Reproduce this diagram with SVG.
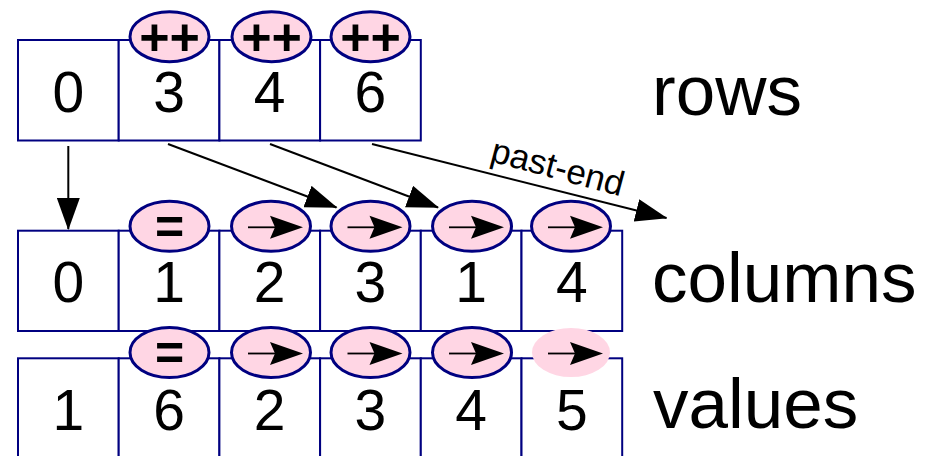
<svg xmlns="http://www.w3.org/2000/svg" xmlns:xlink="http://www.w3.org/1999/xlink" width="930" height="456" viewBox="0 0 930 456">
  <style>
    .cell { fill: #ffffff; stroke: #000080; stroke-width: 2; }
    .badge { fill: #ffd6e4; stroke: #000080; stroke-width: 3; }
    .badge-plain { fill: #ffd6e4; stroke: none; }
    .num { font-family: "Liberation Sans", Arial, sans-serif; font-size: 57px; fill: #000; text-anchor: middle; }
    .op { font-family: "Liberation Sans", Arial, sans-serif; font-size: 52px; font-weight: bold; fill: #000; text-anchor: middle; }
    .eq { font-family: "Liberation Sans", Arial, sans-serif; font-size: 50px; font-weight: bold; fill: #000; text-anchor: middle; }
    .label { font-family: "Liberation Sans", Arial, sans-serif; font-size: 71px; fill: #000; }
    .note { font-family: "Liberation Sans", Arial, sans-serif; font-size: 35px; fill: #000; }
    .link { fill: none; stroke: #000; stroke-width: 2; }
  </style>
  <defs>
    <marker id="head" markerUnits="userSpaceOnUse" markerWidth="32" markerHeight="23" refX="31" refY="11.5" orient="auto">
      <path d="M0,0 L32,11.5 L0,23 Z" fill="#000"/>
    </marker>
    <!-- small "advance" pointer drawn inside a badge, centred on the badge -->
    <g id="ptr">
      <line x1="-23" y1="1" x2="6" y2="1" stroke="#000" stroke-width="1.8"/>
      <path d="M32,1 L-1,-10.5 L4,1 L-1,12.5 Z" fill="#000"/>
    </g>
  </defs>

  <!-- rows array -->
  <g id="rows">
    <rect class="cell" x="18" y="40" width="100.7" height="100.5"/>
    <rect class="cell" x="118.7" y="40" width="100.7" height="100.5"/>
    <rect class="cell" x="219.4" y="40" width="100.7" height="100.5"/>
    <rect class="cell" x="320.1" y="40" width="100.7" height="100.5"/>
    <text class="num" x="68.3" y="112">0</text>
    <text class="num" x="169" y="112">3</text>
    <text class="num" x="269.7" y="112">4</text>
    <text class="num" x="370.4" y="112">6</text>
    <ellipse class="badge" cx="169.5" cy="36.7" rx="39.5" ry="25"/>
    <ellipse class="badge" cx="271.5" cy="36.7" rx="39.5" ry="25"/>
    <ellipse class="badge" cx="370.5" cy="36.7" rx="39.5" ry="25"/>
    <text class="op" x="169.5" y="55">++</text>
    <text class="op" x="271.5" y="55">++</text>
    <text class="op" x="370.5" y="55">++</text>
    <text class="label" x="652" y="115">rows</text>
  </g>

  <!-- columns array -->
  <g id="columns">
    <rect class="cell" x="18" y="230.7" width="100.7" height="100.3"/>
    <rect class="cell" x="118.7" y="230.7" width="100.7" height="100.3"/>
    <rect class="cell" x="219.4" y="230.7" width="100.7" height="100.3"/>
    <rect class="cell" x="320.1" y="230.7" width="100.7" height="100.3"/>
    <rect class="cell" x="420.8" y="230.7" width="100.7" height="100.3"/>
    <rect class="cell" x="521.5" y="230.7" width="100.7" height="100.3"/>
    <text class="num" x="68.3" y="302">0</text>
    <text class="num" x="169" y="302">1</text>
    <text class="num" x="269.7" y="302">2</text>
    <text class="num" x="370.4" y="302">3</text>
    <text class="num" x="471.1" y="302">1</text>
    <text class="num" x="571.8" y="302">4</text>
    <ellipse class="badge" cx="169.5" cy="226.3" rx="39.5" ry="25"/>
    <ellipse class="badge" cx="271" cy="226.3" rx="39.5" ry="25"/>
    <ellipse class="badge" cx="370.5" cy="226.3" rx="39.5" ry="25"/>
    <ellipse class="badge" cx="472" cy="226.3" rx="39.5" ry="25"/>
    <ellipse class="badge" cx="571" cy="226.3" rx="39.5" ry="25"/>
    <text class="eq" x="169.5" y="244">=</text>
    <use xlink:href="#ptr" x="271" y="226.3"/>
    <use xlink:href="#ptr" x="370.5" y="226.3"/>
    <use xlink:href="#ptr" x="472" y="226.3"/>
    <use xlink:href="#ptr" x="571" y="226.3"/>
    <text class="label" x="652" y="302">columns</text>
  </g>

  <!-- values array -->
  <g id="values">
    <rect class="cell" x="18" y="358.3" width="100.7" height="101"/>
    <rect class="cell" x="118.7" y="358.3" width="100.7" height="101"/>
    <rect class="cell" x="219.4" y="358.3" width="100.7" height="101"/>
    <rect class="cell" x="320.1" y="358.3" width="100.7" height="101"/>
    <rect class="cell" x="420.8" y="358.3" width="100.7" height="101"/>
    <rect class="cell" x="521.5" y="358.3" width="100.7" height="101"/>
    <text class="num" x="68.3" y="430">1</text>
    <text class="num" x="169" y="430">6</text>
    <text class="num" x="269.7" y="430">2</text>
    <text class="num" x="370.4" y="430">3</text>
    <text class="num" x="471.1" y="430">4</text>
    <text class="num" x="571.8" y="430">5</text>
    <ellipse class="badge" cx="169.5" cy="352.5" rx="39.5" ry="25"/>
    <ellipse class="badge" cx="271" cy="352.5" rx="39.5" ry="25"/>
    <ellipse class="badge" cx="370.5" cy="352.5" rx="39.5" ry="25"/>
    <ellipse class="badge" cx="472" cy="352.5" rx="39.5" ry="25"/>
    <ellipse class="badge-plain" cx="571" cy="352.5" rx="39" ry="24.5"/>
    <text class="eq" x="169.5" y="370">=</text>
    <use xlink:href="#ptr" x="271" y="352.5"/>
    <use xlink:href="#ptr" x="370.5" y="352.5"/>
    <use xlink:href="#ptr" x="472" y="352.5"/>
    <use xlink:href="#ptr" x="571" y="352.5"/>
    <text class="label" x="653" y="428">values</text>
  </g>

  <!-- row offsets pointing into the column array -->
  <g id="connectors">
    <line class="link" x1="68.3" y1="146" x2="68.3" y2="229" marker-end="url(#head)"/>
    <line class="link" x1="168" y1="144" x2="336.5" y2="207.5" marker-end="url(#head)"/>
    <line class="link" x1="270" y1="144" x2="438" y2="207.5" marker-end="url(#head)"/>
    <line class="link" x1="372" y1="144" x2="666.5" y2="218" marker-end="url(#head)"/>
    <text class="note" transform="translate(489,161) rotate(15)">past-end</text>
  </g>
</svg>
